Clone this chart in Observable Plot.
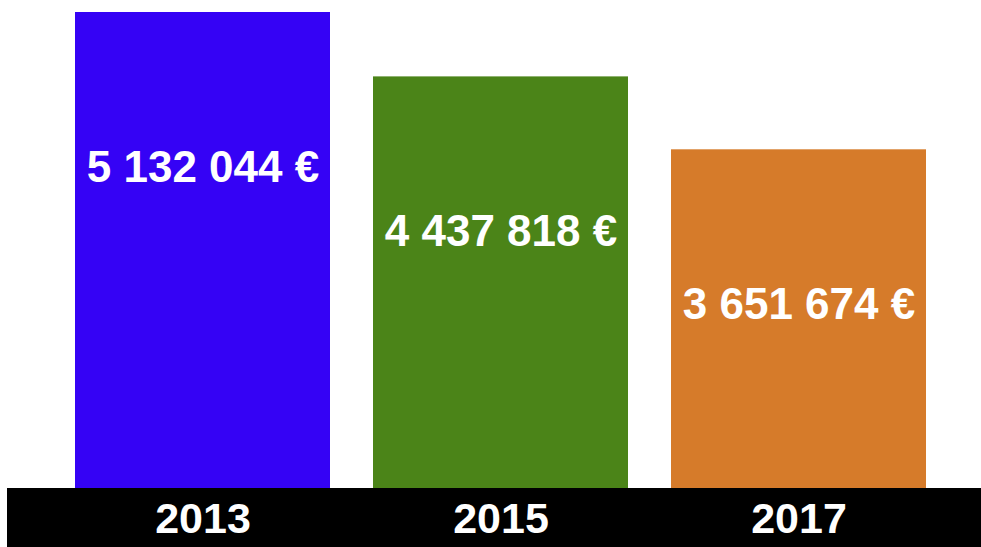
<!DOCTYPE html>
<html>
<head>
<meta charset="utf-8">
<script src="https://cdn.jsdelivr.net/npm/d3@7"></script>
<script src="https://cdn.jsdelivr.net/npm/@observablehq/plot@0.6"></script>
<style>
  html, body { margin: 0; padding: 0; background: #fff; }
  #chart svg { display: block; }
</style>
</head>
<body>
<div id="chart"></div>
<script>
const years = ["2013", "2015", "2017"];
const values = [5132044, 4437818, 3651674];
const labels = ["5 132 044 €", "4 437 818 €", "3 651 674 €"];
const colors = ["#3502f5", "#4b8418", "#d67b2a"];

const data = years.map((y, i) => ({year: y, value: values[i], label: labels[i], color: colors[i]}));

const band = (index, scales, values, dims) => {
  const r = document.createElementNS("http://www.w3.org/2000/svg", "rect");
  r.setAttribute("x", dims.marginLeft);
  r.setAttribute("y", dims.height - dims.marginBottom);
  r.setAttribute("width", dims.width - dims.marginLeft - dims.marginRight);
  r.setAttribute("height", dims.marginBottom);
  r.setAttribute("fill", "#000");
  return r;
};

const chart = Plot.plot({
  width: 981,
  height: 547,
  marginTop: 12,
  marginBottom: 59,
  marginLeft: 7,
  marginRight: 0,
  style: {fontFamily: "'Liberation Sans', Arial, sans-serif", background: "#fff"},
  x: {domain: years, paddingInner: 0.144, paddingOuter: 0.206, align: 0.553, axis: null},
  y: {domain: [0, d3.max(values)], axis: null},
  marks: [
    band,
    Plot.barY(data, {x: "year", y: "value", fill: "color"}),
    Plot.text(data, {x: "year", y: "value", text: "label", dy: 155, fill: "#fff", fontSize: 44, fontWeight: "bold", lineAnchor: "middle"}),
    Plot.text(data, {x: "year", text: "year", frameAnchor: "bottom", dy: 31, fill: "#fff", fontSize: 43, fontWeight: "bold", lineAnchor: "middle"})
  ]
});
document.getElementById("chart").appendChild(chart);
</script>
</body>
</html>
